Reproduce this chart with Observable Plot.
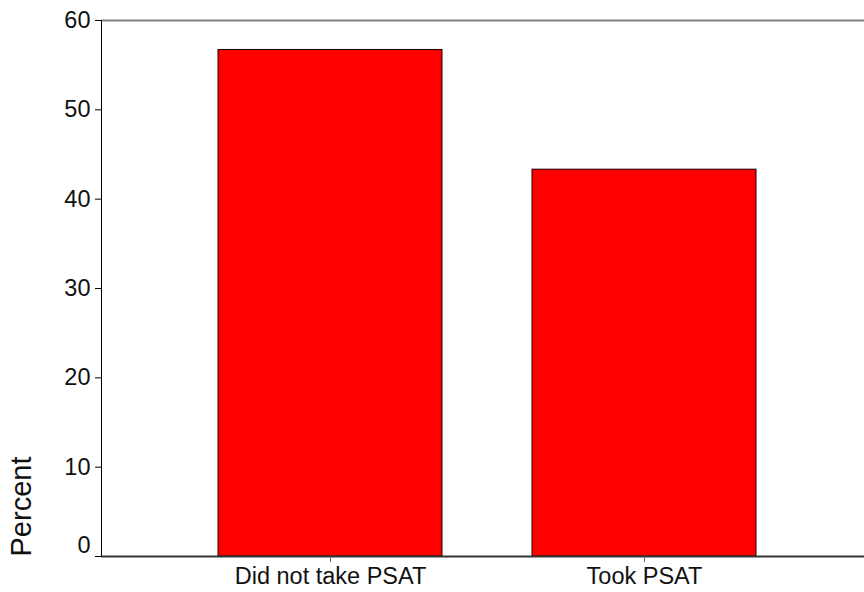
<!DOCTYPE html>
<html>
<head>
<meta charset="utf-8">
<script src="https://cdn.jsdelivr.net/npm/d3@7"></script>
<script src="https://cdn.jsdelivr.net/npm/@observablehq/plot@0.6"></script>
<style>
  html, body { margin: 0; padding: 0; background: #fff; }
  #chart svg { display: block; }
</style>
</head>
<body>
<div id="chart"></div>
<script>
const categories = ["Did not take PSAT", "Took PSAT"];
const percents = [56.7, 43.3];
const yTicks = [0, 10, 20, 30, 40, 50, 60];
const yLabel = "Percent";

const data = categories.map((c, i) => ({cat: c, pct: percents[i]}));

const font = "'Liberation Sans', Arial, sans-serif";

const chart = Plot.plot({
  width: 864,
  height: 592,
  marginLeft: 101,
  marginRight: 0,
  marginTop: 20,
  marginBottom: 36,
  style: {fontFamily: font, background: "#fff", overflow: "visible"},
  x: {domain: categories, paddingInner: 0.2857, paddingOuter: 0.354, align: 0.52, label: null},
  y: {domain: [0, 60], label: null},
  marks: [
    Plot.barY(data, {x: "cat", y: "pct", fill: "#ff0000", stroke: "#1a0000", strokeWidth: 1}),
    Plot.ruleY([60], {stroke: "#808080", strokeWidth: 2}),
    Plot.ruleY([0], {stroke: "#333", strokeWidth: 2}),
    Plot.frame({anchor: "left", stroke: "#000", strokeWidth: 1}),
    Plot.axisY({ticks: yTicks, tickSize: 6, tickPadding: 5, fontSize: 23.5, stroke: "#000",
      tickFormat: d => d === 0 ? "" : String(d), label: null, color: "#111"}),
    Plot.axisY({ticks: [0], tickSize: 0, tickPadding: 11, fontSize: 23.5, dy: -11, label: null, color: "#111", tickFormat: d => String(d)}),
    Plot.axisX({tickSize: 6, tickPadding: 5, fontSize: 23.5, stroke: "#666", color: "#111", label: null}),
    Plot.text([yLabel], {frameAnchor: "bottom-left", rotate: -90, dx: -71, dy: -50, fontSize: 29, textAnchor: "middle", fill: "#111"})
  ]
});
document.getElementById("chart").appendChild(chart);
</script>
</body>
</html>
